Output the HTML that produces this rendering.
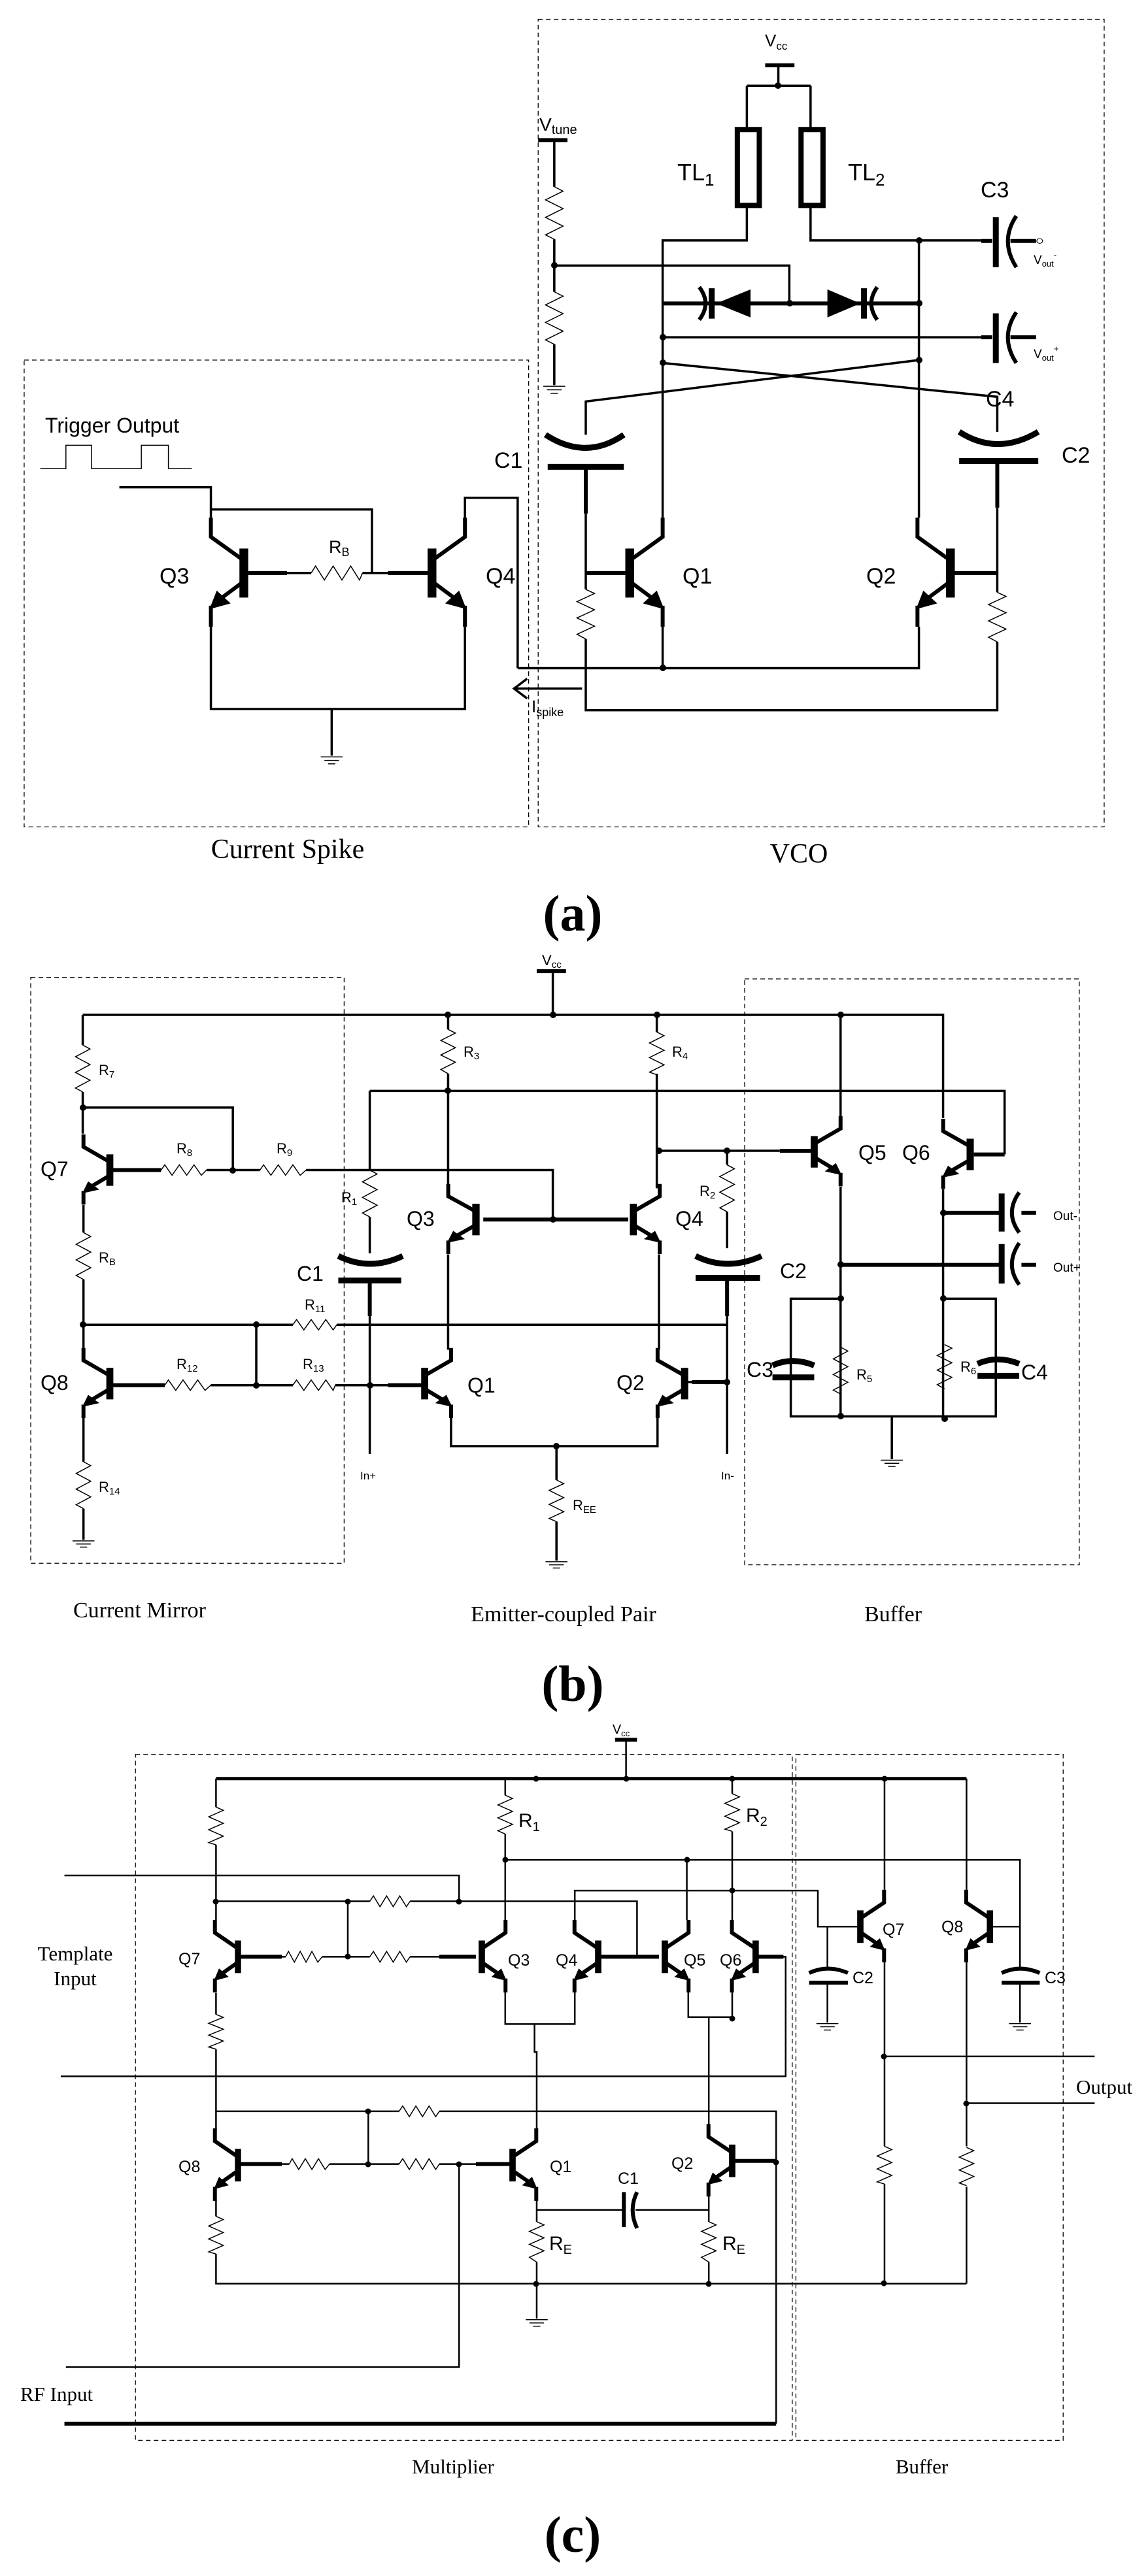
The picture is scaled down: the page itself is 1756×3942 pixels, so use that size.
<!DOCTYPE html>
<html><head><meta charset="utf-8"><style>
html,body{margin:0;padding:0;background:#fff}
svg{display:block}
path,line,polyline,rect.b{vector-effect:non-scaling-stroke}
.w{fill:none;stroke:#000;stroke-width:3.5}
.wc{fill:none;stroke:#000;stroke-width:2.5}
.t{fill:none;stroke:#000;stroke-width:6}
.tt{fill:none;stroke:#000;stroke-width:9}
.r{fill:none;stroke:#000;stroke-width:1.5}
.d{fill:none;stroke:#000;stroke-width:1.3;stroke-dasharray:7 5}
text{font-family:"Liberation Sans Narrow","Liberation Sans",sans-serif;fill:#000}
.s{font-family:"Liberation Serif",serif}
</style></head><body>
<svg width="1756" height="3942" viewBox="0 0 1756 3942" xmlns="http://www.w3.org/2000/svg">
<defs>
<g id="npn">
<rect x="-6" y="-42" width="12" height="84" fill="#000"/>
<path d="M4 -25 L45 -62 V-95" style="fill:none;stroke:#000;stroke-width:6"/>
<path d="M4 18 L34 46" style="fill:none;stroke:#000;stroke-width:6"/>
<polygon points="47,62 18,52 37,30" fill="#000"/>
<path d="M45 56 V92" style="fill:none;stroke:#000;stroke-width:6"/>
</g>
<g id="gnd"><path d="M-15 0 H15 M-10 6 H10 M-5 12 H5" style="fill:none;stroke:#000;stroke-width:1.5"/></g>
</defs>

<!-- ================= PANEL A ================= -->
<g transform="scale(1.12,0.893)">
<rect x="735" y="33" width="773" height="1384" class="d b"/>
<rect x="33" y="617" width="689" height="800" class="d b"/>
<!-- Vcc -->
<path class="t" d="M1045 112 H1085"/>
<path class="w" d="M1063 112 V147 M1020 147 H1107 M1020 147 V222 M1107 147 V222"/>
<rect x="1007" y="222" width="30" height="130" fill="#fff" stroke="#000" stroke-width="8" class="b"/>
<rect x="1094" y="222" width="30" height="130" fill="#fff" stroke="#000" stroke-width="8" class="b"/>
<path class="w" d="M1020 352 V412 H905 V887 M1107 352 V412 H1340 M1255 412 V887"/>
<!-- Vtune -->
<path class="t" d="M735 240 H775"/>
<path class="w" d="M757 240 V320 M757 410 V500 M757 590 V660 M757 455 H1078 V520"/>
<path class="r" d="M757 320 l12 7.5 l-24 15 l24 15 l-24 15 l24 15 l-24 15 l12 7.5"/>
<path class="r" d="M757 500 l12 7.5 l-24 15 l24 15 l-24 15 l24 15 l-24 15 l12 7.5"/>
<use href="#gnd" x="757" y="662"/>
<!-- varactors -->
<path class="t" d="M905 520 H1255"/>
<polygon points="978,520 1025,496 1025,544" fill="#000"/>
<path class="tt" d="M972 494 V546"/>
<path class="t" d="M955 492 Q972 520 955 548"/>
<polygon points="1175,520 1130,496 1130,544" fill="#000"/>
<path class="tt" d="M1180 494 V546"/>
<path class="t" d="M1198 492 Q1182 520 1198 548"/>
<!-- C3 / C4 outputs -->
<path class="w" d="M905 578 H1340"/>
<path class="t" d="M1340 413 H1355 M1380 413 H1415 M1340 578 H1355 M1380 578 H1415"/>
<path class="tt" d="M1360 372 V458 M1360 537 V622"/>
<path class="t" d="M1388 370 Q1365 413 1388 458 M1388 535 Q1365 578 1388 622"/>
<circle cx="1420" cy="413" r="4" fill="#fff" stroke="#000" stroke-width="1"/>
<!-- cross -->
<path class="w" d="M905 622 L1362 680 V740 M1255 617 L800 688 V745"/>
<!-- C1 -->
<path class="tt" d="M745 745 Q800 790 852 745"/>
<path class="tt" d="M748 800 H852"/>
<path class="t" d="M800 800 V880"/>
<path class="w" d="M800 880 V1010 M800 982 H854"/>
<!-- C2 -->
<path class="tt" d="M1310 740 Q1362 782 1418 740"/>
<path class="tt" d="M1310 790 H1418"/>
<path class="t" d="M1362 790 V870"/>
<path class="w" d="M1362 870 V1015 M1362 982 H1304"/>
<path class="t" d="M800 982 H854 M1362 982 H1304"/>
<path class="r" d="M800 1010 l12 7 l-24 14 l24 14 l-24 14 l24 14 l-24 14 l12 8"/>
<path class="r" d="M1362 1015 l12 7 l-24 14 l24 14 l-24 14 l24 14 l-24 14 l12 8"/>
<path class="w" d="M800 1095 V1217 H1362 V1100"/>
<path class="w" d="M707 1145 H1255 V1074 M905 1074 V1145 M707 1145 V853 H635 V887"/>
<!-- transistors -->
<use href="#npn" transform="translate(860,982)"/>
<use href="#npn" transform="translate(1298,982) scale(-1,1)"/>
<use href="#npn" transform="translate(590,982)"/>
<use href="#npn" transform="translate(333,982) scale(-1,1)"/>
<path class="w" d="M635 1074 V1215 H288 V1074 M453 1215 V1295"/>
<use href="#gnd" x="453" y="1297"/>
<path class="w" d="M288 887 V835 H163 M288 873 H508 V982 M390 982 H425 M495 982 H530"/>
<path class="t" d="M339 982 H392 M530 982 H584"/>
<path class="r" d="M425 982 l6 -12 l12 24 l12 -24 l12 24 l12 -24 l12 24 l4 -12"/>
<!-- Ispike -->
<path class="w" d="M795 1180 H702 M720 1163 L702 1180 L720 1197"/>
<!-- pulse -->
<path class="r" d="M55 803 H90 V763 H125 V803 H193 V763 H230 V803 H262"/>
</g>
<g fill="#000">
<circle cx="1190" cy="131" r="5"/><circle cx="1406" cy="368" r="5"/><circle cx="848" cy="406" r="5"/>
<circle cx="1208" cy="464" r="5"/><circle cx="1406" cy="464" r="5"/><circle cx="1014" cy="516" r="5"/>
<circle cx="1014" cy="555" r="5"/><circle cx="1406" cy="551" r="5"/><circle cx="1014" cy="1022" r="5"/>
</g>
<text x="1170" y="71" font-size="26">V<tspan font-size="17" dy="5">cc</tspan></text>
<text x="825" y="200" font-size="28">V<tspan font-size="20" dy="5">tune</tspan></text>
<text x="1036" y="276" font-size="36">TL<tspan font-size="26" dy="8">1</tspan></text>
<text x="1297" y="276" font-size="36">TL<tspan font-size="26" dy="8">2</tspan></text>
<text x="1500" y="302" font-size="34">C3</text>
<text x="1581" y="404" font-size="19">V<tspan font-size="13" dy="4">out</tspan><tspan font-size="13" dy="-14">-</tspan></text>
<text x="1581" y="548" font-size="19">V<tspan font-size="13" dy="4">out</tspan><tspan font-size="13" dy="-14">+</tspan></text>
<text x="1508" y="622" font-size="34">C4</text>
<text x="756" y="716" font-size="34">C1</text>
<text x="1624" y="708" font-size="34">C2</text>
<text x="244" y="893" font-size="34">Q3</text>
<text x="743" y="893" font-size="34">Q4</text>
<text x="1044" y="893" font-size="34">Q1</text>
<text x="1325" y="893" font-size="34">Q2</text>
<text x="503" y="846" font-size="27">R<tspan font-size="18" dy="5">B</tspan></text>
<text x="69" y="662" font-size="32">Trigger Output</text>
<text x="813" y="1090" font-size="26">I<tspan font-size="18" dy="6">spike</tspan></text>
<text x="440" y="1313" font-size="42" class="s" text-anchor="middle">Current Spike</text>
<text x="1222" y="1320" font-size="42" class="s" text-anchor="middle">VCO</text>
<text x="876" y="1424" font-size="78" class="s" font-weight="bold" text-anchor="middle">(a)</text>

<!-- ================= PANEL B ================= -->
<g transform="translate(0,1400) scale(1.12,0.797)">
<rect x="42" y="120" width="428" height="1125" class="d b"/>
<rect x="1017" y="123" width="457" height="1125" class="d b"/>
<path class="t" d="M733 108 H773"/>
<path class="w" d="M755 108 V192 M113 192 H1288 V390 M1148 192 V390"/>
<!-- R7 / Q7 -->
<path class="w" d="M113 192 V250 M113 340 V420 M113 370 H318 V490 M150 490 H220 M282 490 H355 M418 490 H755 V585"/>
<path class="r" d="M113 250 l10 7.5 l-20 15 l20 15 l-20 15 l20 15 l-20 15 l10 7.5"/>
<path class="r" d="M220 490 l5 -10 l10 20 l10 -20 l10 20 l10 -20 l10 20 l7 -10"/>
<path class="r" d="M355 490 l5 -10 l10 20 l10 -20 l10 20 l10 -20 l10 20 l8 -10"/>
<use href="#npn" transform="translate(150,490) scale(-0.8,0.72)"/>
<use href="#npn" transform="translate(150,900) scale(-0.8,0.72)"/>
<path class="w" d="M114 557 V610 M114 700 V835 M114 966 V1050 M114 1140 V1200"/>
<path class="r" d="M114 610 l10 7.5 l-20 15 l20 15 l-20 15 l20 15 l-20 15 l10 7.5"/>
<path class="r" d="M114 1050 l10 7.5 l-20 15 l20 15 l-20 15 l20 15 l-20 15 l10 7.5"/>
<use href="#gnd" x="114" y="1202"/>
<path class="w" d="M114 787 H400 M460 787 H993 M350 787 V903 M150 903 H225 M288 903 H400 M458 903 H575"/>
<path class="t" d="M150 490 H220 M150 903 H225 M530 903 H578"/>
<path class="r" d="M400 787 l5 -10 l10 20 l10 -20 l10 20 l10 -20 l10 20 l5 -10"/>
<path class="r" d="M225 903 l5 -10 l10 20 l10 -20 l10 20 l10 -20 l10 20 l8 -10"/>
<path class="r" d="M400 903 l5 -10 l10 20 l10 -20 l10 20 l10 -20 l10 20 l3 -10"/>
<!-- R1 C1 -->
<path class="w" d="M505 338 H1372 V460 M505 338 V490 M505 580 V650 M505 700 V1035"/>
<path class="t" d="M1372 460 H1330"/>
<path class="r" d="M505 490 l10 7.5 l-20 15 l20 15 l-20 15 l20 15 l-20 15 l10 7.5"/>
<path class="tt" d="M462 655 Q505 685 550 655 M462 702 H548"/>
<path class="t" d="M505 702 V770"/>
<!-- R3 R4 -->
<path class="w" d="M612 192 V220 M612 305 V525 M897 192 V225 M897 305 V525 M900 453 H1065 M993 453 V480 M993 570 V640 M993 700 V1035 M940 897 H993"/>
<path class="r" d="M612 220 l10 7 l-20 14 l20 14 l-20 14 l20 14 l-20 14 l10 8"/>
<path class="r" d="M897 225 l10 7 l-20 14 l20 14 l-20 14 l20 14 l-20 14 l10 5"/>
<path class="r" d="M993 480 l10 7.5 l-20 15 l20 15 l-20 15 l20 15 l-20 15 l10 7.5"/>
<path class="tt" d="M950 655 Q993 685 1040 655 M950 697 H1038"/>
<path class="t" d="M993 697 V770 M1065 453 H1108 M755 585 H660 M755 585 H858 M945 897 H990"/>
<use href="#npn" transform="translate(650,585) scale(-0.84,0.72)"/>
<use href="#npn" transform="translate(865,585) scale(0.8,0.72)"/>
<use href="#npn" transform="translate(580,900) scale(0.8,0.72)"/>
<use href="#npn" transform="translate(935,900) scale(-0.82,0.72)"/>
<use href="#npn" transform="translate(1112,455) scale(0.8,0.72)"/>
<use href="#npn" transform="translate(1325,460) scale(-0.82,0.72)"/>
<path class="w" d="M612 652 V835 M900 652 V835 M616 966 V1020 H898 V966 M760 1020 V1085 M760 1165 V1240"/>
<path class="r" d="M760 1085 l10 7 l-20 13 l20 14 l-20 13 l20 14 l-20 13 l10 6"/>
<use href="#gnd" x="760" y="1242"/>
<!-- buffer -->
<path class="w" d="M1148 522 V965 M1288 527 V965 M1288 572 H1360 M1148 672 H1360 M1148 737 H1080 V963 H1360 V737 H1288 M1148 737 V830 M1148 920 V963 M1218 965 V1045"/>
<path class="t" d="M1288 572 H1365 M1148 672 H1365 M1395 572 H1415 M1395 672 H1415"/>
<path class="tt" d="M1368 535 V608 M1368 632 V708"/>
<path class="t" d="M1392 533 Q1372 572 1392 610 M1392 630 Q1372 672 1392 710"/>
<path class="tt" d="M1055 865 Q1082 848 1112 865 M1055 888 H1112 M1335 862 Q1362 845 1392 862 M1335 885 H1392"/>
<path class="r" d="M1148 830 l10 7.5 l-20 15 l20 15 l-20 15 l20 15 l-20 15 l10 7.5"/>
<path class="r" d="M1290 825 l10 7 l-20 14 l20 14 l-20 14 l20 14 l-20 14 l10 8"/>
<use href="#gnd" x="1218" y="1047"/>
</g>
<g fill="#000">
<circle cx="685" cy="1553" r="5"/><circle cx="846" cy="1553" r="5"/><circle cx="1005" cy="1553" r="5"/><circle cx="1286" cy="1553" r="5"/>
<circle cx="127" cy="1695" r="5"/><circle cx="685" cy="1669" r="5"/><circle cx="356" cy="1791" r="5"/><circle cx="846" cy="1866" r="5"/>
<circle cx="1008" cy="1761" r="5"/><circle cx="1112" cy="1761" r="5"/><circle cx="127" cy="2027" r="5"/><circle cx="392" cy="2027" r="5"/>
<circle cx="392" cy="2120" r="5"/><circle cx="566" cy="2120" r="5"/><circle cx="1112" cy="2115" r="5"/><circle cx="851" cy="2213" r="5"/>
<circle cx="1443" cy="1856" r="5"/><circle cx="1286" cy="1935" r="5"/><circle cx="1286" cy="1987" r="5"/><circle cx="1443" cy="1987" r="5"/>
<circle cx="1286" cy="2167" r="5"/><circle cx="1445" cy="2171" r="5"/>
</g>
<g font-size="22">
<text x="829" y="1477">V<tspan font-size="15" dy="4">cc</tspan></text>
<text x="151" y="1645">R<tspan font-size="15" dy="4">7</tspan></text>
<text x="270" y="1765">R<tspan font-size="15" dy="4">8</tspan></text>
<text x="423" y="1765">R<tspan font-size="15" dy="4">9</tspan></text>
<text x="522" y="1840">R<tspan font-size="15" dy="4">1</tspan></text>
<text x="709" y="1617">R<tspan font-size="15" dy="4">3</tspan></text>
<text x="1028" y="1617">R<tspan font-size="15" dy="4">4</tspan></text>
<text x="1070" y="1830">R<tspan font-size="15" dy="4">2</tspan></text>
<text x="151" y="1932">R<tspan font-size="15" dy="4">B</tspan></text>
<text x="466" y="2004">R<tspan font-size="15" dy="4">11</tspan></text>
<text x="270" y="2095">R<tspan font-size="15" dy="4">12</tspan></text>
<text x="463" y="2095">R<tspan font-size="15" dy="4">13</tspan></text>
<text x="151" y="2283">R<tspan font-size="15" dy="4">14</tspan></text>
<text x="876" y="2311">R<tspan font-size="15" dy="4">EE</tspan></text>
<text x="1310" y="2111">R<tspan font-size="15" dy="4">5</tspan></text>
<text x="1469" y="2099">R<tspan font-size="15" dy="4">6</tspan></text>
<text x="1611" y="1867" font-size="19">Out-</text>
<text x="1611" y="1946" font-size="19">Out+</text>
<text x="551" y="2264" font-size="17">In+</text>
<text x="1103" y="2264" font-size="17">In-</text>
</g>
<g font-size="32">
<text x="62" y="1800">Q7</text><text x="62" y="2127">Q8</text>
<text x="622" y="1876">Q3</text><text x="1033" y="1876">Q4</text>
<text x="715" y="2131">Q1</text><text x="943" y="2127">Q2</text>
<text x="1313" y="1775">Q5</text><text x="1380" y="1775">Q6</text>
<text x="454" y="1960">C1</text><text x="1193" y="1956">C2</text>
<text x="1142" y="2107">C3</text><text x="1562" y="2111">C4</text>
</g>
<text x="112" y="2475" font-size="34" class="s">Current Mirror</text>
<text x="862" y="2481" font-size="34" class="s" text-anchor="middle">Emitter-coupled Pair</text>
<text x="1366" y="2481" font-size="34" class="s" text-anchor="middle">Buffer</text>
<text x="876" y="2603" font-size="78" class="s" font-weight="bold" text-anchor="middle">(b)</text>

<!-- ================= PANEL C ================= -->
<g transform="translate(0,2650) scale(1.12,0.824)">
<rect x="185" y="42" width="897" height="1274" class="d b"/>
<rect x="1087" y="42" width="365" height="1274" class="d b"/>
<path class="t" d="M840 15 H870"/>
<path class="wc" d="M855 15 V87"/>
<path class="t" d="M295 87 H1320" style="stroke-width:5"/>
<path class="wc" d="M295 87 V140 M295 210 V350 M295 315 H505 M560 315 H870 V418 M475 315 V418 M325 418 H390 M440 418 H505 M560 418 H650 M88 267 H627 V315"/>
<path class="r" d="M295 140 l10 6 l-20 12 l20 12 l-20 12 l20 12 l-20 12 l10 4"/>
<path class="r" d="M505 315 l5 -10 l9 20 l9 -20 l9 20 l9 -20 l9 20 l5 -10"/>
<path class="r" d="M390 418 l4 -10 l8 20 l8 -20 l8 20 l8 -20 l8 20 l6 -10"/>
<path class="r" d="M505 418 l5 -10 l9 20 l9 -20 l9 20 l9 -20 l9 20 l5 -10"/>
<path class="t" d="M325 418 H385 M600 418 H650 M815 418 H900 M1030 418 H1070"/>
<use href="#npn" transform="translate(325,418) scale(-0.7,0.72)"/>
<use href="#npn" transform="translate(658,418) scale(0.72,0.72)"/>
<use href="#npn" transform="translate(817,418) scale(-0.72,0.72)"/>
<use href="#npn" transform="translate(908,418) scale(0.72,0.72)"/>
<use href="#npn" transform="translate(1032,418) scale(-0.72,0.72)"/>
<use href="#npn" transform="translate(325,805) scale(-0.7,0.72)"/>
<use href="#npn" transform="translate(700,805) scale(0.72,0.72)"/>
<use href="#npn" transform="translate(1000,797) scale(-0.72,0.72)"/>
<use href="#npn" transform="translate(1175,362) scale(0.72,0.72)"/>
<use href="#npn" transform="translate(1352,362) scale(-0.72,0.72)"/>
<path class="wc" d="M690 87 V118 M690 190 V350 M690 238 H1393 V362 H1352 M938 238 V350 M1000 87 V115 M1000 185 V350 M785 350 V295 H1117 V362 H1175 M1130 362 V440 M1130 468 V540 M1393 362 V440 M1393 468 V540 M1208 87 V296 M1320 87 V296"/>
<path class="r" d="M690 118 l10 6 l-20 12 l20 12 l-20 12 l20 12 l-20 12 l10 6"/>
<path class="r" d="M1000 115 l10 6 l-20 12 l20 12 l-20 12 l20 12 l-20 12 l10 4"/>
<path class="t" d="M1105 448 Q1130 432 1158 448 M1105 466 H1158 M1368 448 Q1393 432 1420 448 M1368 466 H1420"/>
<use href="#gnd" x="1130" y="542"/><use href="#gnd" x="1393" y="542"/>
<path class="wc" d="M1030 418 H1073 V640 H83"/>
<path class="wc" d="M690 484 V543 H785 V484 M730 543 V595 H733 V740 M940 484 V530 H1000 V484 M968 530 V733"/>
<path class="wc" d="M295 485 V525 M295 590 V740 M295 705 H545 M600 705 H1060 V1285 M503 705 V803 M325 803 H395 M450 803 H545 M600 803 H700 M1000 797 H1060 M90 1180 H627 V803"/>
<path class="t" d="M88 1285 H1060 M1000 797 H1060 M325 803 H385 M650 803 H700"/>
<path class="r" d="M295 525 l10 5.5 l-20 11 l20 11 l-20 11 l20 11 l-20 11 l10 4"/>
<path class="r" d="M545 705 l5 -10 l9 20 l9 -20 l9 20 l9 -20 l9 20 l5 -10"/>
<path class="r" d="M395 803 l4 -10 l9 20 l9 -20 l9 20 l9 -20 l9 20 l6 -10"/>
<path class="r" d="M545 803 l5 -10 l9 20 l9 -20 l9 20 l9 -20 l9 20 l5 -10"/>
<path class="wc" d="M295 870 V900 M295 970 V1025 H1320 M733 871 V910 M733 985 V1090 M968 863 V910 M968 985 V1025 M733 888 H850 M868 888 H968"/>
<path class="r" d="M295 900 l10 6 l-20 12 l20 12 l-20 12 l20 12 l-20 12 l10 4"/>
<path class="r" d="M733 910 l10 6 l-20 12 l20 12 l-20 12 l20 12 l-20 12 l10 9"/>
<path class="r" d="M968 910 l10 6 l-20 12 l20 12 l-20 12 l20 12 l-20 12 l10 9"/>
<path class="t" d="M852 855 V920 M870 855 Q858 888 870 922"/>
<use href="#gnd" x="733" y="1092"/>
<path class="wc" d="M1208 428 V770 M1208 840 V1025 M1208 603 H1495 M1320 428 V770 M1320 845 V1025 M1320 690 H1495"/>
<path class="r" d="M1208 770 l10 6 l-20 12 l20 12 l-20 12 l20 12 l-20 12 l10 4"/>
<path class="r" d="M1320 772 l10 6 l-20 12 l20 12 l-20 12 l20 12 l-20 12 l10 5"/>
</g>
<g fill="#000">
<circle cx="820" cy="2722" r="4.5"/><circle cx="958" cy="2722" r="4.5"/><circle cx="1120" cy="2722" r="4.5"/><circle cx="1353" cy="2722" r="4.5"/>
<circle cx="773" cy="2846" r="4.5"/><circle cx="1051" cy="2846" r="4.5"/><circle cx="1120" cy="2893" r="4.5"/>
<circle cx="330" cy="2910" r="4.5"/><circle cx="532" cy="2910" r="4.5"/><circle cx="702" cy="2910" r="4.5"/><circle cx="532" cy="2994" r="4.5"/>
<circle cx="1120" cy="3089" r="4.5"/><circle cx="1352" cy="3147" r="4.5"/><circle cx="1478" cy="3219" r="4.5"/>
<circle cx="563" cy="3231" r="4.5"/><circle cx="563" cy="3312" r="4.5"/><circle cx="702" cy="3312" r="4.5"/><circle cx="1187" cy="3309" r="4.5"/>
<circle cx="820" cy="3495" r="4.5"/><circle cx="1084" cy="3495" r="4.5"/><circle cx="1352" cy="3494" r="4.5"/>
</g>
<text x="950" y="2653" font-size="20" text-anchor="middle">V<tspan font-size="13" dy="4">cc</tspan></text>
<g font-size="30">
<text x="793" y="2796">R<tspan font-size="20" dy="6">1</tspan></text>
<text x="1141" y="2788">R<tspan font-size="20" dy="6">2</tspan></text>
<text x="840" y="3443">R<tspan font-size="20" dy="6">E</tspan></text>
<text x="1105" y="3443">R<tspan font-size="20" dy="6">E</tspan></text>
</g>
<g font-size="25">
<text x="273" y="3006">Q7</text><text x="273" y="3324">Q8</text>
<text x="777" y="3008">Q3</text><text x="850" y="3008">Q4</text>
<text x="1046" y="3008">Q5</text><text x="1101" y="3008">Q6</text>
<text x="1350" y="2961">Q7</text><text x="1440" y="2957">Q8</text>
<text x="1304" y="3035">C2</text><text x="1598" y="3035">C3</text>
<text x="841" y="3324">Q1</text><text x="1027" y="3319">Q2</text>
<text x="945" y="3342">C1</text>
</g>
<g font-size="31" class="s">
<text x="115" y="3000" text-anchor="middle" class="s">Template</text>
<text x="115" y="3038" text-anchor="middle" class="s">Input</text>
<text x="31" y="3674" class="s">RF Input</text>
<text x="1646" y="3204" class="s">Output</text>
<text x="693" y="3785" text-anchor="middle" class="s">Multiplier</text>
<text x="1410" y="3785" text-anchor="middle" class="s">Buffer</text>
</g>
<text x="876" y="3905" font-size="78" class="s" font-weight="bold" text-anchor="middle">(c)</text>
</svg>
</body></html>
